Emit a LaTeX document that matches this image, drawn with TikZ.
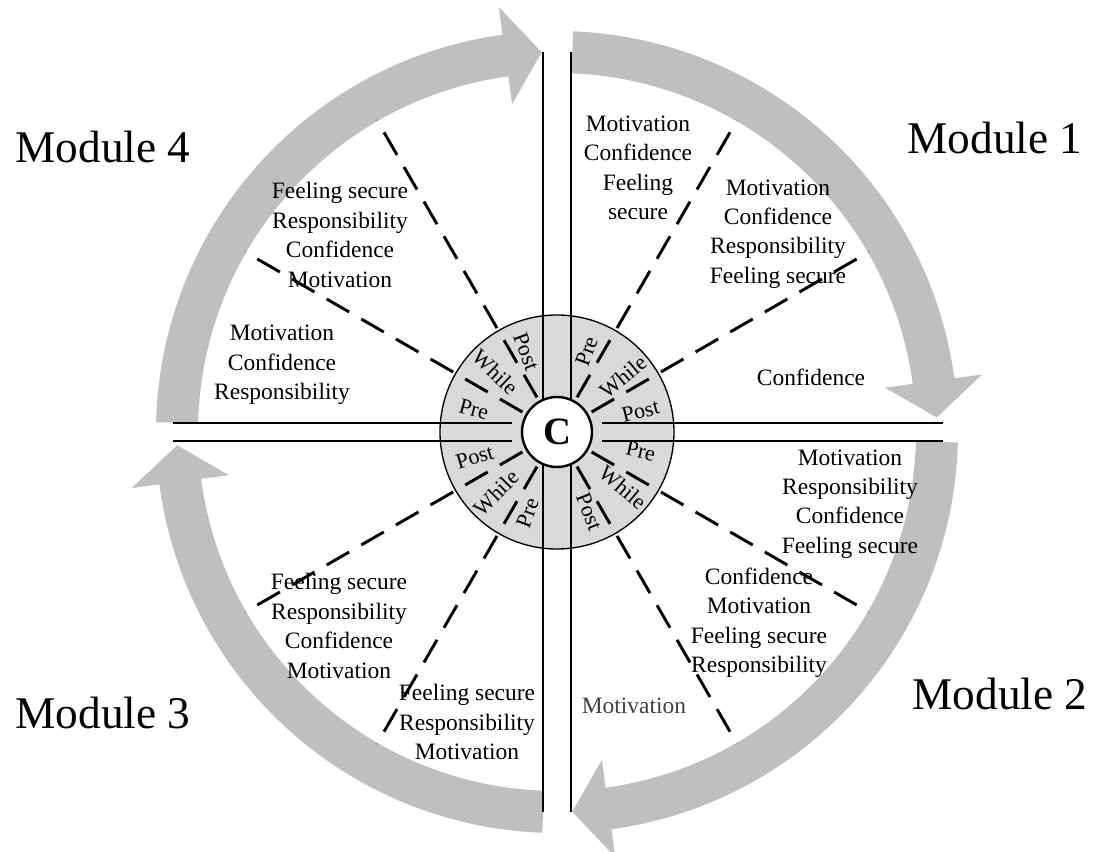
\documentclass[tikz,border=0pt]{standalone}
\usepackage{fontspec}
\setmainfont{Liberation Serif}
\definecolor{arrowgray}{RGB}{191,191,191}
\definecolor{diskgray}{RGB}{217,217,217}
\tikzset{
  axisline/.style={line width=1.5pt, black},
  dashline/.style={line width=2.2pt, dash pattern=on 19.5pt off 10.5pt},
  ringlabel/.style={font=\fontsize{16.5}{18}\selectfont, inner sep=0pt},
  blocktext/.style={font=\fontsize{17.6}{22.1}\selectfont, align=center, inner sep=0pt},
  modlabel/.style={font=\fontsize{34}{40}\selectfont, inner sep=0pt},
}
\newcommand\circarrow[2]{%
  \pgfmathsetmacro\hb{#2+5.5}%
  \fill[arrowgray] (#1:401) arc[start angle=#1, end angle=\hb, radius=401]
    -- (\hb:429) -- (#2:380) -- (\hb:331) -- (\hb:359)
    arc[start angle=\hb, end angle=#1, radius=359] -- cycle;%
}
\begin{document}
\begin{tikzpicture}[x=0.75pt,y=0.75pt]
\useasboundingbox (-557,-420) rectangle (538,432);
\coordinate (O) at (0,0);

% circular arrows
\circarrow{87.7}{2.2}
\circarrow{-1.5}{-87.7}
\circarrow{-92.1}{-178}
\circarrow{178.6}{92.3}

% disk
\fill[diskgray] (O) circle[radius=117];

% axis lines
\coordinate (vlt) at (-14,380); \coordinate (vlb) at (-14,-380);
\coordinate (vrt) at (14,380);  \coordinate (vrb) at (14,-380);
\draw[axisline] (vlt) -- (vlb);
\draw[axisline] (vrt) -- (vrb);
\coordinate (hlu) at (-384,9);  \coordinate (hlui) at (-45,9);
\coordinate (hll) at (-384,-9); \coordinate (hlli) at (-45,-9);
\coordinate (hru) at (386,9);   \coordinate (hrui) at (45,9);
\coordinate (hrl) at (386,-9);  \coordinate (hrli) at (45,-9);
\draw[axisline] (hlu) -- (hlui);
\draw[axisline] (hll) -- (hlli);
\draw[axisline] (hrui) -- (hru);
\draw[axisline] (hrli) -- (hrl);

% dashed dividers
\foreach \a in {30,60,120,150,210,240,300,330}
  \draw[dashline] (\a:40) -- (\a:360);

% disk outline and centre
\draw[line width=1pt] (O) circle[radius=117];
\node[draw, circle, fill=white, line width=1.8pt, minimum size=52.5pt, inner sep=0pt,
      font=\fontsize{29}{30}\selectfont\bfseries] (C) at (O) {C};

% ring labels
\foreach \a/\t [count=\i] in {70/Pre, 40/While, 14/Post, -13/Pre, -40/While, -68/Post}
  \node[ringlabel, rotate=\a] (rr\i) at (\a:86) {\t};
\foreach \a/\t [count=\i, evaluate=\a as \r using \a-180] in {250/Pre, 225/While, 197/Post, 165/Pre, 136/While, 111/Post}
  \node[ringlabel, rotate=\r] (rl\i) at (\a:86) {\t};

% text blocks
\node[blocktext] (tr1) at (81,264) {Motivation\\Confidence\\Feeling\\secure};
\node[blocktext] (tr2) at (221,198) {Motivation\\Confidence\\Responsibility\\Feeling secure};
\node[blocktext] (tr3) at (254,55) {Confidence};
\node[blocktext] (tl1) at (-217,197) {Feeling secure\\Responsibility\\Confidence\\Motivation};
\node[blocktext] (tl2) at (-275,67) {Motivation\\Confidence\\Responsibility};
\node[blocktext] (br1) at (293,-72) {Motivation\\Responsibility\\Confidence\\Feeling secure};
\node[blocktext] (br2) at (202,-191) {Confidence\\Motivation\\Feeling secure\\Responsibility};
\node[blocktext, text=black!75] (br3) at (77,-274) {Motivation};
\node[blocktext] (bl1) at (-218,-194) {Feeling secure\\Responsibility\\Confidence\\Motivation};
\node[blocktext] (bl2) at (-90,-290) {Feeling secure\\Responsibility\\Motivation};

% module labels
\node[modlabel] (m1) at (438,294) {Module 1};
\node[modlabel] (m2) at (443,-262) {Module 2};
\node[modlabel] (m3) at (-454,-281) {Module 3};
\node[modlabel] (m4) at (-454,285) {Module 4};
\end{tikzpicture}
\end{document}
